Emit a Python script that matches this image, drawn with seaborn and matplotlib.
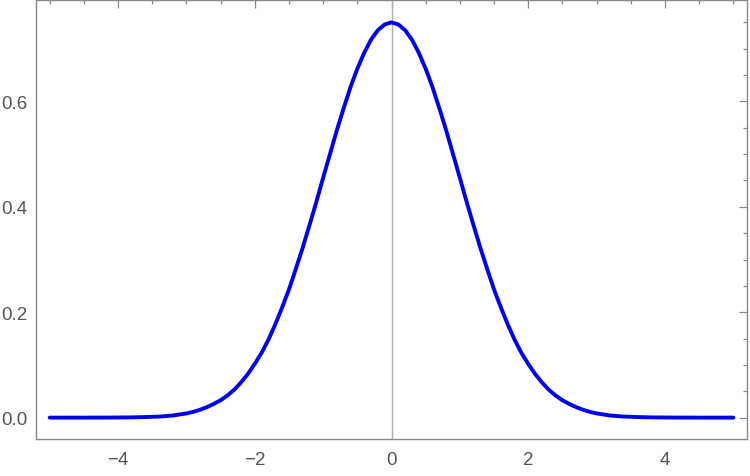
import pandas as pd
import seaborn as sns
import matplotlib.pyplot as plt
from matplotlib.ticker import MultipleLocator

x_vals = [-5.0, -4.9, -4.8, -4.7, -4.6, -4.5, -4.4, -4.3, -4.2, -4.1,
          -4.0, -3.9, -3.8, -3.7, -3.6, -3.5, -3.4, -3.3, -3.2, -3.1,
          -3.0, -2.9, -2.8, -2.7, -2.6, -2.5, -2.4, -2.3, -2.2, -2.1,
          -2.0, -1.9, -1.8, -1.7, -1.6, -1.5, -1.4, -1.3, -1.2, -1.1,
          -1.0, -0.9, -0.8, -0.7, -0.6, -0.5, -0.4, -0.3, -0.2, -0.1,
          0.0,
          0.1, 0.2, 0.3, 0.4, 0.5, 0.6, 0.7, 0.8, 0.9, 1.0,
          1.1, 1.2, 1.3, 1.4, 1.5, 1.6, 1.7, 1.8, 1.9, 2.0,
          2.1, 2.2, 2.3, 2.4, 2.5, 2.6, 2.7, 2.8, 2.9, 3.0,
          3.1, 3.2, 3.3, 3.4, 3.5, 3.6, 3.7, 3.8, 3.9, 4.0,
          4.1, 4.2, 4.3, 4.4, 4.5, 4.6, 4.7, 4.8, 4.9, 5.0]
y_vals = [0.0, 0.0, 0.0, 0.0, 0.0, 0.0, 0.0001, 0.0001, 0.0001, 0.0002,
          0.0003, 0.0004, 0.0005, 0.0008, 0.0011, 0.0016, 0.002, 0.003, 0.004, 0.006,
          0.008, 0.011, 0.015, 0.020, 0.026, 0.033, 0.042, 0.053, 0.067, 0.083,
          0.102, 0.123, 0.148, 0.177, 0.209, 0.243, 0.282, 0.322, 0.365, 0.409,
          0.455, 0.500, 0.545, 0.587, 0.627, 0.662, 0.692, 0.717, 0.735, 0.746,
          0.750,
          0.746, 0.735, 0.717, 0.692, 0.662, 0.627, 0.587, 0.545, 0.500, 0.455,
          0.409, 0.365, 0.322, 0.282, 0.243, 0.209, 0.177, 0.148, 0.123, 0.102,
          0.083, 0.067, 0.053, 0.042, 0.033, 0.026, 0.020, 0.015, 0.011, 0.008,
          0.006, 0.004, 0.003, 0.002, 0.0016, 0.0011, 0.0008, 0.0005, 0.0004, 0.0003,
          0.0002, 0.0001, 0.0001, 0.0001, 0.0, 0.0, 0.0, 0.0, 0.0, 0.0]
x_ticks = [-4, -2, 0, 2, 4]
y_ticks = [0.0, 0.2, 0.4, 0.6]

df = pd.DataFrame({"x": x_vals, "y": y_vals})

sns.set_theme(style="white")
plt.rcParams["font.family"] = ["Liberation Sans", "DejaVu Sans"]

fig = plt.figure(figsize=(7.5, 4.77), dpi=100)
ax = fig.add_axes([0.048, 0.0776, 0.948, 0.9204])

ax.axvline(0, color="#b0b0b0", lw=1.0, zorder=1)
sns.lineplot(data=df, x="x", y="y", color="#0000ee", lw=2.8, ax=ax, zorder=3)

ax.set_xlim(-5.2, 5.2)
ax.set_ylim(-0.0405, 0.7925)
ax.set_xticks(x_ticks)
ax.set_xticklabels([f"{t:g}".replace("-", "\u2212") for t in x_ticks])
ax.set_yticks(y_ticks)
ax.set_yticklabels([f"{t:.1f}" for t in y_ticks])
ax.xaxis.set_minor_locator(MultipleLocator(0.5))
ax.yaxis.set_minor_locator(MultipleLocator(0.05))
ax.set_xlabel("")
ax.set_ylabel("")

for side in ["left", "right", "top", "bottom"]:
    ax.spines[side].set_color("#888888")
    ax.spines[side].set_linewidth(1.0)

ax.tick_params(which="both", direction="in", top=True, right=True,
               color="#888888", width=0.9, labelcolor="#555555", labelsize=13.5)
ax.tick_params(which="major", length=6)
ax.tick_params(which="minor", length=3.2)
ax.tick_params(axis="x", which="major", pad=9)
ax.tick_params(axis="y", which="major", pad=6)

fig.savefig("out.png", dpi=100, facecolor="white")
